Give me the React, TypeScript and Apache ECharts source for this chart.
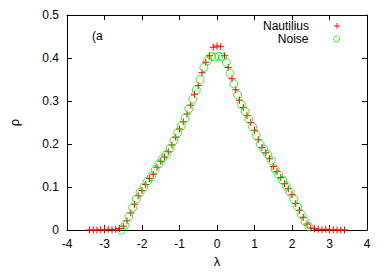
import React, { useEffect, useRef } from "react";
import * as echarts from "echarts";

const nautiliusX = [
  -3.4, -3.3, -3.2, -3.1, -3.0, -2.9, -2.8, -2.7, -2.6, -2.5, -2.4, -2.3, -2.2, -2.1, -2.0,
  -1.9, -1.8, -1.7, -1.6, -1.5, -1.4, -1.3, -1.2, -1.1, -1.0, -0.9, -0.8, -0.7, -0.6, -0.5,
  -0.4, -0.3, -0.2, -0.1, 0.0, 0.1, 0.2, 0.3, 0.4, 0.5, 0.6, 0.7, 0.8, 0.9, 1.0,
  1.1, 1.2, 1.3, 1.4, 1.5, 1.6, 1.7, 1.8, 1.9, 2.0, 2.1, 2.2, 2.3, 2.4, 2.5,
  2.6, 2.7, 2.8, 2.9, 3.0, 3.1, 3.2, 3.3, 3.4,
];
const nautiliusY = [
  0.0, 0.0, 0.0, 0.001, 0.0, 0.002, 0.001, 0.002, 0.004, 0.009, 0.022, 0.040, 0.060, 0.080, 0.092,
  0.106, 0.120, 0.130, 0.146, 0.160, 0.170, 0.182, 0.198, 0.216, 0.235, 0.252, 0.270, 0.290, 0.316, 0.336,
  0.366, 0.390, 0.405, 0.425, 0.428, 0.426, 0.405, 0.378, 0.352, 0.326, 0.302, 0.285, 0.266, 0.250, 0.232,
  0.210, 0.192, 0.180, 0.166, 0.148, 0.136, 0.122, 0.108, 0.096, 0.082, 0.062, 0.046, 0.030, 0.014, 0.005,
  0.003, 0.002, 0.001, 0.002, 0.0, 0.001, 0.0, 0.0, 0.0,
];

const noiseX = [
  -2.55, -2.45, -2.35, -2.25, -2.15, -2.05, -1.95, -1.85, -1.75, -1.65, -1.55, -1.45, -1.35,
  -1.25, -1.15, -1.05, -0.95, -0.85, -0.75, -0.65, -0.55, -0.45, -0.35, -0.25, -0.15, -0.05,
  0.05, 0.15, 0.25, 0.35, 0.45, 0.55, 0.65, 0.75, 0.85, 0.95, 1.05, 1.15, 1.25,
  1.35, 1.45, 1.55, 1.65, 1.75, 1.85, 1.95, 2.05, 2.15, 2.25, 2.35, 2.45,
];
const noiseY = [
  0.0, 0.012, 0.032, 0.052, 0.072, 0.088, 0.100, 0.114, 0.124, 0.140, 0.154, 0.166, 0.176,
  0.190, 0.208, 0.226, 0.242, 0.260, 0.282, 0.304, 0.326, 0.350, 0.378, 0.394, 0.404, 0.402,
  0.404, 0.402, 0.390, 0.364, 0.340, 0.314, 0.292, 0.276, 0.258, 0.240, 0.220, 0.200, 0.188,
  0.176, 0.162, 0.142, 0.128, 0.116, 0.102, 0.088, 0.072, 0.054, 0.036, 0.020, 0.008,
];

const seriesNames = ["Nautilius", "Noise"];
const xLabel = "λ";
const yLabel = "ρ";
const panelLabel = "(a";

const PLUS = "path://M3,0H4V3H7V4H4V7H3V4H0V3H3Z";
const FONT = "'Liberation Sans', Arial, Helvetica, sans-serif";

export default function App() {
  const ref = useRef<HTMLDivElement>(null);
  useEffect(() => {
    if (!ref.current) return;
    const chart = echarts.init(ref.current, undefined, { renderer: "svg" });
    const axisLine = { show: true, onZero: false, lineStyle: { color: "#000", width: 1 } };
    const tick = { show: true, inside: true, length: 5, lineStyle: { color: "#000", width: 1 } };
    const label = { color: "#000", fontSize: 12, fontFamily: FONT };
    const legendCommon = {
      orient: "vertical", align: "right", right: 50,
      itemWidth: 46, itemHeight: 6, symbolKeepAspect: true, padding: 0,
      textStyle: { color: "#000", fontSize: 12, fontFamily: FONT },
    };
    chart.setOption({
      animation: false,
      backgroundColor: "#fff",
      grid: { left: 62, right: 23, top: 15, bottom: 41, containLabel: false },
      xAxis: [
        {
          type: "value", min: -4, max: 4, interval: 1, position: "bottom",
          axisLine, axisTick: tick, splitLine: { show: false },
          axisLabel: { ...label, margin: 8 },
          name: xLabel, nameLocation: "middle", nameGap: 23,
          nameTextStyle: { color: "#000", fontSize: 13, fontFamily: FONT },
        },
        {
          type: "value", min: -4, max: 4, interval: 1, position: "top",
          axisLine, axisTick: tick, splitLine: { show: false }, axisLabel: { show: false },
        },
      ],
      yAxis: [
        {
          type: "value", min: 0, max: 0.5, interval: 0.1, position: "left",
          axisLine, axisTick: tick, splitLine: { show: false },
          axisLabel: { ...label, margin: 8 },
          name: yLabel, nameLocation: "middle", nameGap: 46,
          nameTextStyle: { color: "#000", fontSize: 13, fontFamily: FONT },
        },
        {
          type: "value", min: 0, max: 0.5, interval: 0.1, position: "right",
          axisLine, axisTick: tick, splitLine: { show: false }, axisLabel: { show: false },
        },
      ],
      legend: [
        { ...legendCommon, data: [seriesNames[0]], top: 20 },
        {
          ...legendCommon, data: [seriesNames[1]], top: 33,
          itemStyle: { color: "transparent", borderColor: "#00ee00", borderWidth: 1 },
        },
      ],
      graphic: [
        {
          type: "text", left: 92, top: 30,
          style: { text: panelLabel, fill: "#000", font: `12px ${FONT}` },
        },
      ],
      series: [
        {
          name: seriesNames[0], type: "scatter",
          data: nautiliusX.map((x, i) => [x, nautiliusY[i]]),
          symbol: PLUS, symbolSize: 7,
          itemStyle: { color: "#ff0000", opacity: 1 },
        },
        {
          name: seriesNames[1], type: "scatter",
          data: noiseX.map((x, i) => [x, noiseY[i]]),
          symbol: "circle", symbolSize: 8,
          itemStyle: { color: "transparent", borderColor: "#00ee00", borderWidth: 1 },
        },
      ],
    });
    return () => chart.dispose();
  }, []);
  return (
    <div
      ref={ref}
      style={{ position: "fixed", left: 0, top: 0, width: 390, height: 273, background: "#fff" }}
    />
  );
}
